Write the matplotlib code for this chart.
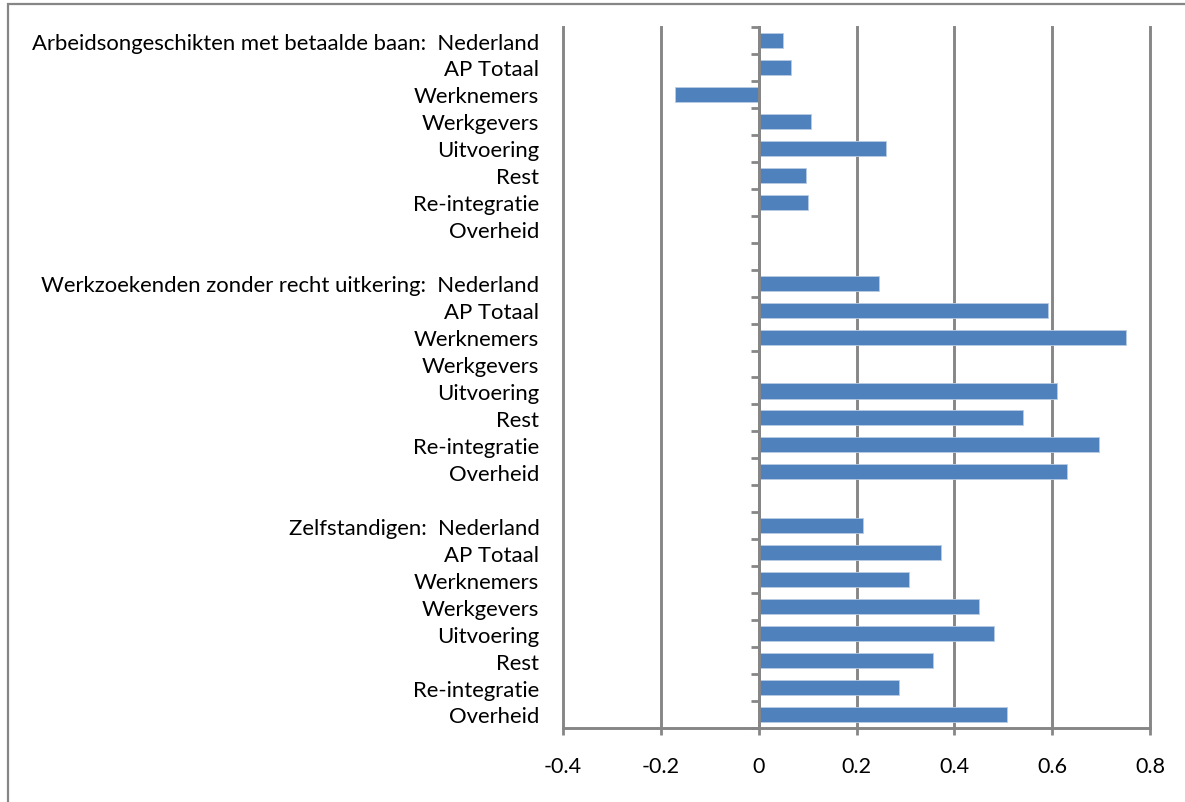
import numpy as np
import matplotlib
matplotlib.use("Agg")
import matplotlib.pyplot as plt
from matplotlib.patches import Rectangle

plt.rcParams['font.family'] = ['Lato', 'DejaVu Sans']

# groups and items, top to bottom
groups = ["Arbeidsongeschikten met betaalde baan:", "Werkzoekenden zonder recht uitkering:", "Zelfstandigen:"]
items = ["Nederland", "AP Totaal", "Werknemers", "Werkgevers", "Uitvoering", "Rest", "Re-integratie", "Overheid"]

arbeidsongeschikt = [0.049, 0.067, -0.172, 0.106, 0.260, 0.096, 0.100, np.nan]
werkzoekend = [0.245, 0.591, 0.750, np.nan, 0.609, 0.540, 0.695, 0.630]
zelfstandig = [0.213, 0.372, 0.307, 0.450, 0.482, 0.356, 0.286, 0.507]

xticks = [-0.4, -0.2, 0, 0.2, 0.4, 0.6, 0.8]
xticklabels = ["-0.4", "-0.2", "0", "0.2", "0.4", "0.6", "0.8"]

# build category list with a blank row between groups
labels = []
values = []
for g, (name, vals) in enumerate(zip(groups, [arbeidsongeschikt, werkzoekend, zelfstandig])):
    for i, it in enumerate(items):
        if i == 0:
            labels.append(name + "  " + it)
        else:
            labels.append(it)
        values.append(vals[i])
    if g < len(groups) - 1:
        labels.append("")
        values.append(np.nan)
pos = np.arange(len(labels))

grey = '#868686'
fig = plt.figure(figsize=(11.85, 8.03), dpi=100)
ax = fig.add_axes([0.4751, 0.0922, 0.4954, 0.8729])

ax.barh(pos, values, height=0.56, color='#4F81BD', edgecolor='#B8CCE4', linewidth=0.6, zorder=3)

ax.set_xlim(-0.4, 0.8)
ax.set_ylim(len(labels) - 0.5, -0.5)
ax.set_xticks(xticks)
ax.set_xticklabels(xticklabels, fontsize=15.5)
ax.tick_params(axis='x', direction='out', length=5, width=2, color=grey, pad=15)
ax.grid(axis='x', color=grey, linewidth=2.1, zorder=1)
for gl in ax.get_xgridlines():
    gl.set_clip_on(False)

for s in ['top', 'right']:
    ax.spines[s].set_visible(False)
ax.spines['bottom'].set_color(grey)
ax.spines['bottom'].set_linewidth(2.1)
ax.spines['left'].set_position(('data', 0))
ax.spines['left'].set_color(grey)
ax.spines['left'].set_linewidth(2.1)
ax.spines['left'].set_zorder(4)

# category boundary ticks on the zero axis
ax.set_yticks([])
ax.set_yticks(np.arange(-0.5, len(labels), 1), minor=True)
ax.tick_params(axis='y', which='minor', direction='out', length=6, width=2, color=grey)

# category labels on the low side
sec = ax.secondary_yaxis(0)
sec.set_yticks(pos)
sec.set_yticklabels(labels, fontsize=15.9)
sec.tick_params(length=0, pad=17)
sec.spines['left'].set_visible(False)

# outer chart frame
fig.add_artist(Rectangle((8 / 1185, -0.1), 1.2, 1.1 - 5 / 803, transform=fig.transFigure,
                         fill=False, edgecolor=grey, linewidth=1.6))

fig.savefig("out.png", dpi=100)
